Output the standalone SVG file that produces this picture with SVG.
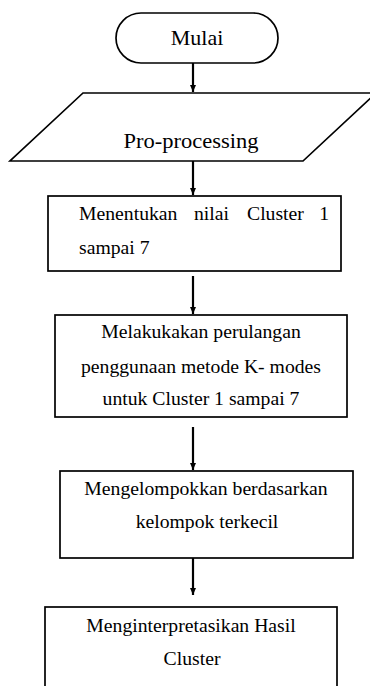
<svg xmlns="http://www.w3.org/2000/svg" width="370" height="686" viewBox="0 0 370 686">
<style>
.shape{fill:#fff;stroke:#000;stroke-width:1.7}
.t{font-family:"Liberation Serif","Times New Roman",serif;fill:#000;font-size:19.7px}
.big{font-size:22px}
.c{text-anchor:middle}
.conn line{stroke:#000;stroke-width:2.2}
</style>
<defs>
<marker id="ah" markerWidth="8" markerHeight="6" refX="7" refY="3" orient="auto" markerUnits="userSpaceOnUse">
<path d="M0,0 L7,3 L0,6 Z" fill="#000"/>
</marker>
</defs>
<rect width="370" height="686" fill="#fff"/>
<g id="connectors" class="conn">
<line x1="193" y1="63" x2="193" y2="92" marker-end="url(#ah)"/>
<line x1="193" y1="161" x2="193" y2="195" marker-end="url(#ah)"/>
<line x1="193" y1="276" x2="193" y2="314" marker-end="url(#ah)"/>
<line x1="193" y1="427" x2="193" y2="470" marker-end="url(#ah)"/>
<line x1="193" y1="558" x2="193" y2="595" marker-end="url(#ah)"/>
</g>
<g id="mulai">
<rect class="shape" x="116" y="13" width="162" height="50" rx="25" ry="25"/>
<text class="t big c" x="197" y="45">Mulai</text>
</g>
<g id="preprocessing">
<polygon class="shape" points="83,93 376,93 303,161 10,161"/>
<text class="t big c" x="191" y="148" textLength="135" lengthAdjust="spacingAndGlyphs">Pro-processing</text>
</g>
<g id="cluster-range">
<rect class="shape" x="48" y="196" width="293" height="75"/>
<text class="t" y="220"><tspan x="79">Menentukan</tspan><tspan x="194">nilai</tspan><tspan x="247">Cluster</tspan><tspan x="329" text-anchor="end">1</tspan></text>
<text class="t" x="79" y="254">sampai 7</text>
</g>
<g id="kmodes-loop">
<rect class="shape" x="55" y="315" width="292" height="102"/>
<text class="t c" x="201" y="338">Melakukakan perulangan</text>
<text class="t c" x="201" y="373">penggunaan metode K- modes</text>
<text class="t c" x="201" y="405">untuk Cluster 1 sampai 7</text>
</g>
<g id="group-smallest">
<rect class="shape" x="60" y="471" width="293" height="87"/>
<text class="t c" x="206" y="495">Mengelompokkan berdasarkan</text>
<text class="t c" x="207" y="528">kelompok terkecil</text>
</g>
<g id="interpret">
<rect class="shape" x="45" y="607" width="292" height="100"/>
<text class="t c" x="191" y="632">Menginterpretasikan Hasil</text>
<text class="t c" x="192" y="665">Cluster</text>
</g>
</svg>
